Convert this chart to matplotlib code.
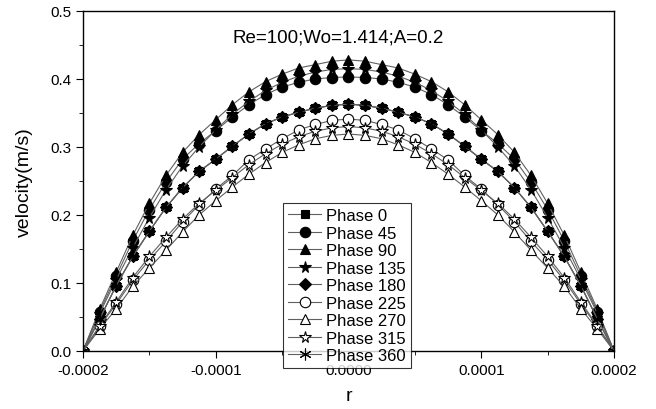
import numpy as np
import matplotlib
matplotlib.use("Agg")
import matplotlib.pyplot as plt
from matplotlib.ticker import MultipleLocator, FormatStrFormatter

plt.rcParams['font.family'] = ['Liberation Sans', 'DejaVu Sans']

# radial positions (33 points across the vessel)
r = np.linspace(-0.0002, 0.0002, 33)

# velocity profiles (wall -> centre -> wall)
p0 = [0, .047, .096, .139, .176, .211, .240, .264, .282, .301, .319, .334, .344, .351, .357, .361, .363,
      .361, .357, .351, .344, .334, .319, .301, .282, .264, .240, .211, .176, .139, .096, .047, 0]
p45 = [0, .058, .110, .162, .208, .248, .282, .305, .324, .344, .362, .377, .388, .395, .400, .402, .403,
       .402, .400, .395, .388, .377, .362, .344, .324, .305, .282, .248, .208, .162, .110, .058, 0]
p90 = [0, .061, .116, .170, .217, .258, .292, .318, .340, .362, .381, .396, .407, .416, .421, .426, .428,
       .426, .421, .416, .407, .396, .381, .362, .340, .318, .292, .258, .217, .170, .116, .061, 0]
p135 = [0, .055, .105, .152, .196, .237, .272, .300, .325, .348, .367, .383, .395, .404, .410, .414, .415,
        .414, .410, .404, .395, .383, .367, .348, .325, .300, .272, .237, .196, .152, .105, .055, 0]
p180 = [0, .047, .096, .139, .176, .211, .240, .264, .282, .301, .319, .334, .344, .351, .357, .361, .363,
        .361, .357, .351, .344, .334, .319, .301, .282, .264, .240, .211, .176, .139, .096, .047, 0]
p225 = [0, .036, .069, .104, .134, .161, .190, .215, .238, .258, .281, .297, .312, .325, .333, .339, .341,
        .339, .333, .325, .312, .297, .281, .258, .238, .215, .190, .161, .134, .104, .069, .036, 0]
p270 = [0, .032, .062, .095, .122, .148, .175, .200, .221, .241, .260, .277, .292, .303, .312, .317, .319,
        .317, .312, .303, .292, .277, .260, .241, .221, .200, .175, .148, .122, .095, .062, .032, 0]
p315 = [0, .037, .072, .108, .139, .167, .194, .217, .236, .255, .274, .290, .304, .315, .323, .328, .330,
        .328, .323, .315, .304, .290, .274, .255, .236, .217, .194, .167, .139, .108, .072, .037, 0]
p360 = [0, .047, .096, .139, .176, .211, .240, .264, .282, .301, .319, .334, .344, .351, .357, .361, .363,
        .361, .357, .351, .344, .334, .319, .301, .282, .264, .240, .211, .176, .139, .096, .047, 0]

labels = ['Phase 0', 'Phase 45', 'Phase 90', 'Phase 135', 'Phase 180',
          'Phase 225', 'Phase 270', 'Phase 315', 'Phase 360']
series = [p0, p45, p90, p135, p180, p225, p270, p315, p360]
markers = ['s', 'o', '^', '*', 'D', 'o', '^', '*', (6, 2, 0)]
filled = [True, True, True, True, True, False, False, False, True]
msizes = [6, 7.5, 7.5, 8.5, 6.5, 7.5, 7.5, 8.5, 8.5]

fig = plt.figure(figsize=(6.56, 4.10), dpi=100)
ax = fig.add_axes([0.1265, 0.1415, 0.8095, 0.8295])

for y, lab, m, f, ms in zip(series, labels, markers, filled, msizes):
    ax.plot(r, y, color='#606060', lw=0.8, marker=m, ms=ms,
            mfc='black' if f else 'white', mec='black', mew=0.8, label=lab)

ax.set_xlim(-0.0002, 0.0002)
ax.set_ylim(0, 0.5)
ax.xaxis.set_major_locator(MultipleLocator(0.0001))
ax.xaxis.set_minor_locator(MultipleLocator(0.00005))
ax.yaxis.set_major_locator(MultipleLocator(0.1))
ax.yaxis.set_minor_locator(MultipleLocator(0.05))
ax.xaxis.set_major_formatter(FormatStrFormatter('%.4f'))
ax.yaxis.set_major_formatter(FormatStrFormatter('%.1f'))
ax.tick_params(which='both', direction='out', top=False, right=False, labelsize=11)
ax.tick_params(which='major', length=5)
ax.tick_params(which='minor', length=3)
for s in ax.spines.values():
    s.set_linewidth(1.0)

ax.set_xlabel('r', fontsize=14, labelpad=7)
ax.set_ylabel('velocity(m/s)', fontsize=14, labelpad=12)
ax.text(0.48, 0.924, 'Re=100;Wo=1.414;A=0.2', transform=ax.transAxes,
        ha='center', va='center', fontsize=13.5)

leg = ax.legend(loc='upper left', bbox_to_anchor=(0.3766, 0.435), fontsize=12,
                frameon=True, fancybox=False, edgecolor='black', handlelength=2.0,
                labelspacing=0.15, borderpad=0.3, handletextpad=0.3,
                borderaxespad=0)
leg.get_frame().set_linewidth(0.8)

fig.savefig('out.png', dpi=100)
